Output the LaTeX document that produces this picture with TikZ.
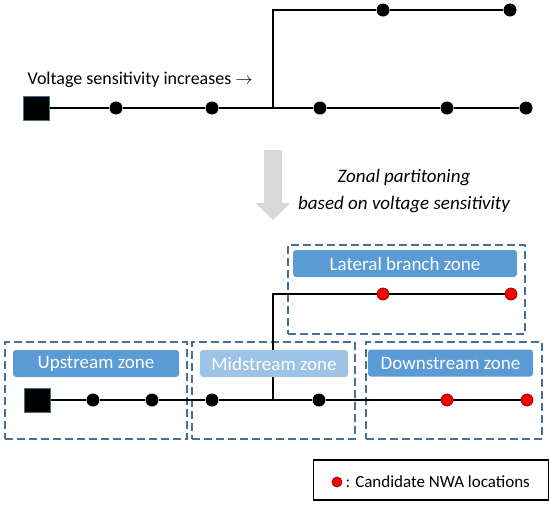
\documentclass[tikz,border=0pt]{standalone}
\usepackage{fontspec}
\setmainfont{Carlito}
\usetikzlibrary{arrows.meta,positioning}
\definecolor{zonefill}{HTML}{5B9BD5}
\definecolor{midfill}{HTML}{9DC3E6}
\definecolor{zoneline}{HTML}{4A6F96}
\definecolor{nwared}{HTML}{FF0000}
\definecolor{nwaedge}{HTML}{8B0A0A}
\definecolor{arrowgray}{HTML}{D9D9D9}

\begin{document}
\begin{tikzpicture}[
  x=1pt, y=-1pt,
  font=\fontsize{17}{20}\selectfont,
  bus/.style={circle, fill=black, inner sep=0pt, minimum size=13pt},
  nwa/.style={circle, fill=nwared, draw=nwaedge, line width=0.8pt, inner sep=0pt, minimum size=12pt},
  subst/.style={draw=zoneline, fill=black, line width=1pt, inner sep=0pt, minimum width=26pt, minimum height=24pt},
  zone/.style={draw=zoneline, line width=1.2pt, dash pattern=on 8pt off 4pt, inner sep=0pt},
  tag/.style={fill=zonefill, rounded corners=3pt, text=white, inner sep=0pt, minimum height=27pt, font=\fontsize{19}{22}\selectfont},
  feeder/.style={line width=1.2pt}
]
\useasboundingbox (0,0) rectangle (550,507);

% original feeder
\node[subst] (s0) at (36,108) {};
\node[bus] (b1) at (116,108) {};
\node[bus] (b2) at (212,108) {};
\coordinate (j0) at (273,108);
\node[bus] (b3) at (320,108) {};
\node[bus] (b4) at (447,108) {};
\node[bus] (b5) at (526,108) {};
\coordinate (t0) at (273,10);
\node[bus] (t1) at (383,10) {};
\node[bus] (t2) at (510,10) {};
\draw[feeder] (s0) -- (b1) -- (b2) -- (j0) -- (b3) -- (b4) -- (b5);
\draw[feeder] (j0) -- (t0) -- (t1) -- (t2);
\node[anchor=base west, font=\fontsize{18}{21}\selectfont] (sens) at (24,84) {Voltage sensitivity increases $\rightarrow$};

% partitioning step
\coordinate (ga) at (273,150);
\coordinate (gb) at (273,220);
\draw[arrowgray, line width=18pt, -{Triangle[length=17pt 0 0, width=34pt 0 0]}] (ga) -- (gb);
\node[font=\itshape\fontsize{19}{27}\selectfont, align=center] (step) at (404,191) {Zonal partitoning\\based on voltage sensitivity};

% zones
\node[zone, minimum width=182pt, minimum height=97pt] (upz) at (96,390.5) {};
\node[zone, minimum width=163pt, minimum height=97pt] (midz) at (273.5,390.5) {};
\node[zone, minimum width=176pt, minimum height=97pt] (downz) at (454,390.5) {};
\node[zone, minimum width=237pt, minimum height=89pt] (latz) at (406.5,289.5) {};

% partitioned feeder
\node[subst] (s1) at (37,400) {};
\node[bus] (c1) at (93,400) {};
\node[bus] (c2) at (152,400) {};
\node[bus] (c3) at (212,400) {};
\coordinate (j1) at (273,400);
\node[bus] (c4) at (319,400) {};
\node[nwa] (c5) at (447,400) {};
\node[nwa] (c6) at (527,400) {};
\coordinate (u0) at (273,294);
\node[nwa] (u1) at (383,294) {};
\node[nwa] (u2) at (511,294) {};
\draw[feeder] (s1) -- (c1) -- (c2) -- (c3) -- (j1) -- (c4) -- (c5) -- (c6);
\draw[feeder] (j1) -- (u0) -- (u1) -- (u2);

\node[tag, minimum width=166pt] (uptag) at (96,363.5) {Upstream zone};
\node[tag, fill=midfill, minimum width=148pt] (midtag) at (274,363.5) {Midstream zone};
\node[tag, minimum width=165pt] (downtag) at (450.5,363) {Downstream zone};
\node[tag, minimum width=224pt] (lattag) at (405,263.5) {Lateral branch zone};

% legend
\node[draw, line width=1.6pt, minimum width=235pt, minimum height=40pt] (key) at (431,480) {};
\node[nwa, minimum size=10pt] (keydot) at (337,482) {};
\node[right=3pt of keydot, inner sep=0pt] (keytext) {: Candidate NWA locations};
\end{tikzpicture}
\end{document}
